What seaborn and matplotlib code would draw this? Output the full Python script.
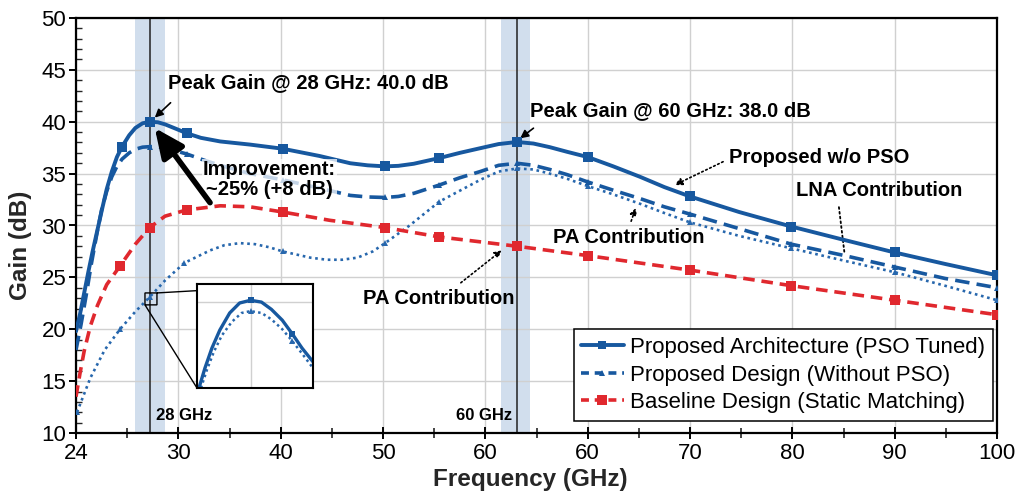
import numpy as np
import pandas as pd
import matplotlib
matplotlib.use("Agg")
import matplotlib.pyplot as plt
from matplotlib.lines import Line2D
import seaborn as sns

# ---------------- data (x in tick-slot units: slot i carries tick label i) ----------------
tick_labels = ["24", "30", "40", "50", "60", "60", "70", "80", "90", "100"]

pso_x = [0.00, 0.04, 0.08, 0.12, 0.16, 0.21, 0.26, 0.30, 0.35, 0.40, 0.45, 0.52, 0.58, 0.65, 0.72,
         0.80, 0.87, 0.97, 1.08, 1.22, 1.41, 1.70, 2.02, 2.38, 2.68, 2.85, 3.02, 3.15, 3.30, 3.55,
         3.75, 3.95, 4.13, 4.31, 4.47, 4.63, 4.80, 5.00, 5.25, 5.51, 5.75, 6.00, 6.48, 6.99, 7.51,
         8.00, 8.49, 9.00]
pso_y = [19.8, 21.5, 23.5, 25.5, 27.4, 29.6, 31.8, 33.5, 35.2, 36.6, 37.6, 38.7, 39.4, 39.85, 40.0,
         39.95, 39.75, 39.35, 38.9, 38.45, 38.1, 37.8, 37.4, 36.7, 36.0, 35.8, 35.7, 35.75, 35.95, 36.5,
         37.0, 37.45, 37.85, 38.05, 37.9, 37.55, 37.1, 36.6, 35.7, 34.7, 33.7, 32.8, 31.3, 29.9, 28.6,
         27.4, 26.3, 25.2]
pso_mark_x = [0.45, 0.72, 1.08, 2.02, 3.02, 3.55, 4.31, 5.00, 6.00, 6.99, 8.00, 9.00]

nopso_x = [0.00, 0.05, 0.10, 0.15, 0.20, 0.25, 0.30, 0.35, 0.40, 0.45, 0.52, 0.58, 0.65, 0.72, 0.80,
           0.87, 0.97, 1.08, 1.25, 1.41, 1.70, 2.02, 2.38, 2.68, 2.85, 3.02, 3.15, 3.30, 3.55, 3.75,
           3.95, 4.13, 4.31, 4.47, 4.63, 4.80, 5.00, 5.25, 5.51, 5.75, 6.00, 6.48, 6.99, 7.51, 8.00,
           8.49, 9.00]
nopso_y = [18.0, 20.5, 23.3, 26.3, 29.0, 31.5, 33.3, 34.7, 35.7, 36.4, 37.0, 37.35, 37.55, 37.6, 37.6,
           37.45, 37.2, 36.9, 36.3, 35.8, 35.0, 34.4, 33.6, 32.9, 32.75, 32.7, 32.8, 33.1, 33.9, 34.6,
           35.2, 35.8, 36.0, 35.8, 35.4, 34.9, 34.2, 33.4, 32.6, 31.8, 31.1, 29.7, 28.2, 27.1, 26.0,
           24.9, 24.0]
nopso_mark_x = [0.72, 1.08, 2.02, 3.02, 3.55, 4.31, 5.00, 6.00, 6.99, 8.00, 9.00]

lna_x = [0.01, 0.14, 0.28, 0.43, 0.58, 0.72, 0.87, 1.06, 1.31, 1.45, 1.60, 1.75, 1.89, 2.02, 2.29,
         2.45, 2.60, 2.75, 2.90, 3.02, 3.26, 3.55, 3.95, 4.13, 4.31, 4.47, 4.63, 4.80, 5.00, 5.25,
         5.51, 5.75, 6.00, 6.48, 6.99, 7.51, 8.00, 8.49, 9.00]
lna_y = [12.0, 15.3, 18.0, 20.0, 21.7, 23.1, 24.7, 26.4, 27.6, 28.1, 28.3, 28.2, 27.9, 27.5, 26.9,
         26.7, 26.7, 26.9, 27.5, 28.3, 30.0, 32.3, 34.4, 35.2, 35.5, 35.4, 35.0, 34.5, 33.8, 33.0,
         32.1, 31.2, 30.3, 29.0, 27.8, 26.6, 25.5, 24.2, 22.8]
lna_mark_x = [0.01, 0.43, 0.72, 1.06, 2.02, 3.02, 3.55, 4.31, 5.00, 6.00, 6.99, 8.00, 9.00]

base_x = [0.00, 0.04, 0.08, 0.14, 0.21, 0.30, 0.43, 0.58, 0.72, 0.87, 1.08, 1.41, 1.70, 2.02, 2.48,
          3.02, 3.55, 4.31, 5.00, 6.00, 6.99, 8.00, 9.00]
base_y = [13.5, 15.8, 17.9, 20.3, 22.3, 24.3, 26.1, 28.2, 29.8, 30.9, 31.5, 31.9, 31.8, 31.3, 30.5,
          29.8, 28.9, 28.0, 27.1, 25.7, 24.2, 22.8, 21.4]
base_mark_x = [0.43, 0.72, 1.08, 2.02, 3.02, 3.55, 4.31, 5.00, 6.00, 6.99, 8.00, 9.00]

# inset (zoomed view) curves
ins_solid_x = [0.676, 0.682, 0.689, 0.697, 0.707, 0.717, 0.728, 0.739, 0.749, 0.760, 0.770, 0.780, 0.791]
ins_solid_y = [22.35, 22.57, 22.79, 22.99, 23.18, 23.29, 23.32, 23.30, 23.22, 23.10, 22.95, 22.79, 22.64]
ins_dot_x = [0.678, 0.684, 0.691, 0.699, 0.709, 0.719, 0.728, 0.739, 0.749, 0.760, 0.770, 0.780, 0.791]
ins_dot_y = [22.35, 22.55, 22.75, 22.93, 23.08, 23.18, 23.20, 23.18, 23.11, 23.00, 22.87, 22.73, 22.57]
ins_mark_x = [0.728, 0.770]

series_names = ["Proposed Architecture (PSO Tuned)",
                "Proposed Design (Without PSO)",
                "Baseline Design (Static Matching)"]

peak_28_x = 0.72
peak_60_x = 4.31
band_28 = (0.58, 0.87)
band_60 = (4.15, 4.44)


def idx(xs, marks):
    return [xs.index(m) for m in marks]


# ---------------- style ----------------
sns.set_theme(style="ticks")
plt.rcParams["font.family"] = ["Liberation Sans", "DejaVu Sans"]
plt.rcParams["axes.edgecolor"] = "black"
plt.rcParams["text.color"] = "black"

BLUE = "#17589f"
BLUE2 = "#2767ad"
RED = "#e0282e"
BAND = "#c9d9ea"

W, H = 1018, 494
fig = plt.figure(figsize=(W / 100, H / 100), dpi=100)
ax = fig.add_axes([76 / W, 1 - 433 / H, 921 / W, 415 / H])

# bands and marker lines
ax.axvspan(*band_28, color=BAND, alpha=0.85, lw=0, zorder=0.5)
ax.axvspan(*band_60, color=BAND, alpha=0.85, lw=0, zorder=0.5)
ax.axvline(peak_28_x, color="#222222", lw=1.1, zorder=1)
ax.axvline(peak_60_x, color="#222222", lw=1.1, zorder=1)

df_pso = pd.DataFrame({"x": pso_x, "y": pso_y})
df_nopso = pd.DataFrame({"x": nopso_x, "y": nopso_y})
df_lna = pd.DataFrame({"x": lna_x, "y": lna_y})
df_base = pd.DataFrame({"x": base_x, "y": base_y})

sns.lineplot(data=df_lna, x="x", y="y", ax=ax, sort=False, color=BLUE2, lw=1.9,
             linestyle=(0, (1.0, 1.4)), marker="^", markersize=4.5, markevery=idx(lna_x, lna_mark_x),
             markeredgewidth=0, zorder=3)
sns.lineplot(data=df_base, x="x", y="y", ax=ax, sort=False, color=RED, lw=2.6,
             linestyle=(0, (3.2, 1.9)), marker="s", markersize=6.5, markevery=idx(base_x, base_mark_x),
             markeredgewidth=0, zorder=3)
sns.lineplot(data=df_nopso, x="x", y="y", ax=ax, sort=False, color=BLUE, lw=2.6,
             linestyle=(0, (4.0, 2.0)), marker="^", markersize=5, markevery=idx(nopso_x, nopso_mark_x),
             markeredgewidth=0, zorder=4)
sns.lineplot(data=df_pso, x="x", y="y", ax=ax, sort=False, color=BLUE, lw=2.8,
             linestyle="-", marker="s", markersize=6.5, markevery=idx(pso_x, pso_mark_x),
             markeredgewidth=0, zorder=5)

# axes
ax.set_xlim(0, 9)
ax.set_ylim(10, 50)
ax.set_xticks(np.arange(10))
ax.set_xticklabels(tick_labels)
ax.set_xticks(np.arange(0.5, 9, 1.0), minor=True)
ax.set_yticks(np.arange(10, 51, 5))
ax.set_yticks(np.arange(10, 51, 1), minor=True)
ax.grid(True, which="major", color="#d0d0d0", lw=1.0, zorder=0)
ax.set_axisbelow(True)
for s in ax.spines.values():
    s.set_linewidth(1.6)
    s.set_color("black")
ax.tick_params(axis="x", which="major", direction="inout", length=8, width=1.4, labelsize=16, pad=3, colors="black")
ax.tick_params(axis="x", which="minor", direction="inout", length=7, width=1.2)
ax.tick_params(axis="y", which="major", direction="out", length=5, width=1.4, labelsize=16, pad=2, colors="black")
ax.tick_params(axis="y", which="minor", direction="in", length=4, width=1.0)

ax.set_xlabel("Frequency (GHz)", fontsize=17.5, fontweight="bold")
ax.set_ylabel("Gain (dB)", fontsize=17.5, fontweight="bold")
ax.xaxis.set_label_coords((530 - 76) / 921, (433 - 479) / 415)
ax.xaxis.label.set_va("center")
ax.yaxis.set_label_coords((21 - 76) / 921, (433 - 245) / 415)
ax.yaxis.label.set_va("center")

# annotations
bold = dict(fontsize=14.5, fontweight="bold")
ax.annotate("Peak Gain @ 28 GHz: 40.0 dB", xy=(0.77, 40.4), xytext=(0.90, 43.8),
            ha="left", va="center", **bold,
            arrowprops=dict(arrowstyle="-|>", color="black", lw=1.2, mutation_scale=12,
                            shrinkA=8, shrinkB=0, relpos=(0.05, 0.0)))
ax.annotate("Peak Gain @ 60 GHz: 38.0 dB", xy=(4.34, 38.4), xytext=(4.44, 41.1),
            ha="left", va="center", **bold,
            arrowprops=dict(arrowstyle="-|>", color="black", lw=1.2, mutation_scale=12,
                            shrinkA=6, shrinkB=0, relpos=(0.05, 0.0)))
ax.text(1.89, 34.4, "Improvement:\n~25% (+8 dB)", ha="center", va="center",
        multialignment="center", linespacing=1.05, zorder=6, **bold,
        bbox=dict(boxstyle="square,pad=0.05", fc="white", ec="none", alpha=0.75))
ax.annotate("", xy=(0.77, 39.4), xytext=(1.31, 32.2),
            arrowprops=dict(arrowstyle="-|>,head_length=1.1,head_width=0.5", color="black",
                            lw=4, mutation_scale=16, shrinkA=0, shrinkB=0), zorder=7)
ax.annotate("Proposed w/o PSO", xy=(5.85, 33.9), xytext=(6.38, 36.6), ha="left", va="center", **bold,
            arrowprops=dict(arrowstyle="-|>", color="black", lw=1.2, ls=":", mutation_scale=11,
                            shrinkA=2, shrinkB=0, relpos=(0.0, 0.4)))
ax.annotate("LNA Contribution", xy=(7.51, 27.3), xytext=(7.04, 33.4), ha="left", va="center", **bold,
            arrowprops=dict(arrowstyle="-", color="black", lw=1.3, ls=":",
                            shrinkA=3, shrinkB=0, relpos=(0.25, 0.0)))
ax.annotate("PA Contribution", xy=(5.47, 31.7), xytext=(4.66, 28.8), ha="left", va="center", **bold,
            arrowprops=dict(arrowstyle="-|>", color="black", lw=1.2, ls=":", mutation_scale=10,
                            shrinkA=3, shrinkB=0, relpos=(0.5, 1.0)))
ax.annotate("PA Contribution", xy=(4.16, 27.6), xytext=(2.80, 23.0), ha="left", va="center", **bold,
            arrowprops=dict(arrowstyle="-|>", color="black", lw=1.2, ls=":", mutation_scale=10,
                            shrinkA=3, shrinkB=0, relpos=(0.6, 1.0)))
ax.text(0.78, 11.7, "28 GHz", ha="left", va="center", fontsize=12, fontweight="bold")
ax.text(4.26, 11.7, "60 GHz", ha="right", va="center", fontsize=12, fontweight="bold")

# legend
handles = [
    Line2D([], [], color=BLUE, lw=2.8, ls="-", marker="s", markersize=6, markeredgewidth=0),
    Line2D([], [], color=BLUE, lw=2.6, ls=(0, (2.2, 1.6)), marker="^", markersize=5, markeredgewidth=0),
    Line2D([], [], color=RED, lw=2.6, ls=(0, (2.2, 1.6)), marker="s", markersize=6.5, markeredgewidth=0),
]
leg = ax.legend(handles, series_names, loc="lower right", bbox_to_anchor=(0.9957, 0.029),
                borderaxespad=0, fontsize=16, frameon=True, fancybox=False, framealpha=1,
                edgecolor="black", handlelength=1.9, handletextpad=0.3, labelspacing=0.3,
                borderpad=0.35)
leg.get_frame().set_linewidth(1.1)
leg.set_zorder(10)

# inset zoom
axins = fig.add_axes([197 / W, 1 - 388 / H, 116 / W, 104 / H])
axins.set_facecolor("white")
sns.lineplot(x=ins_dot_x, y=ins_dot_y, ax=axins, sort=False, color=BLUE2, lw=1.8,
             linestyle=(0, (1.0, 1.3)), marker="^", markersize=4, markevery=idx(ins_dot_x, ins_mark_x),
             markeredgewidth=0)
sns.lineplot(x=ins_solid_x, y=ins_solid_y, ax=axins, sort=False, color=BLUE, lw=2.4,
             marker="s", markersize=5, markevery=idx(ins_solid_x, ins_mark_x), markeredgewidth=0)
axins.set_xlim(0.674, 0.791)
axins.set_ylim(22.35, 23.5)
axins.set_xticks([0.728])
axins.set_yticks([23.30])
axins.set_xticklabels([])
axins.set_yticklabels([])
axins.tick_params(length=0)
axins.grid(True, color="#d0d0d0", lw=1.0)
axins.set_xlabel("")
axins.set_ylabel("")
for s in axins.spines.values():
    s.set_linewidth(1.5)
    s.set_color("black")
ax.indicate_inset_zoom(axins, edgecolor="black", alpha=1, lw=1.0)

fig.savefig("out.png", dpi=100)
